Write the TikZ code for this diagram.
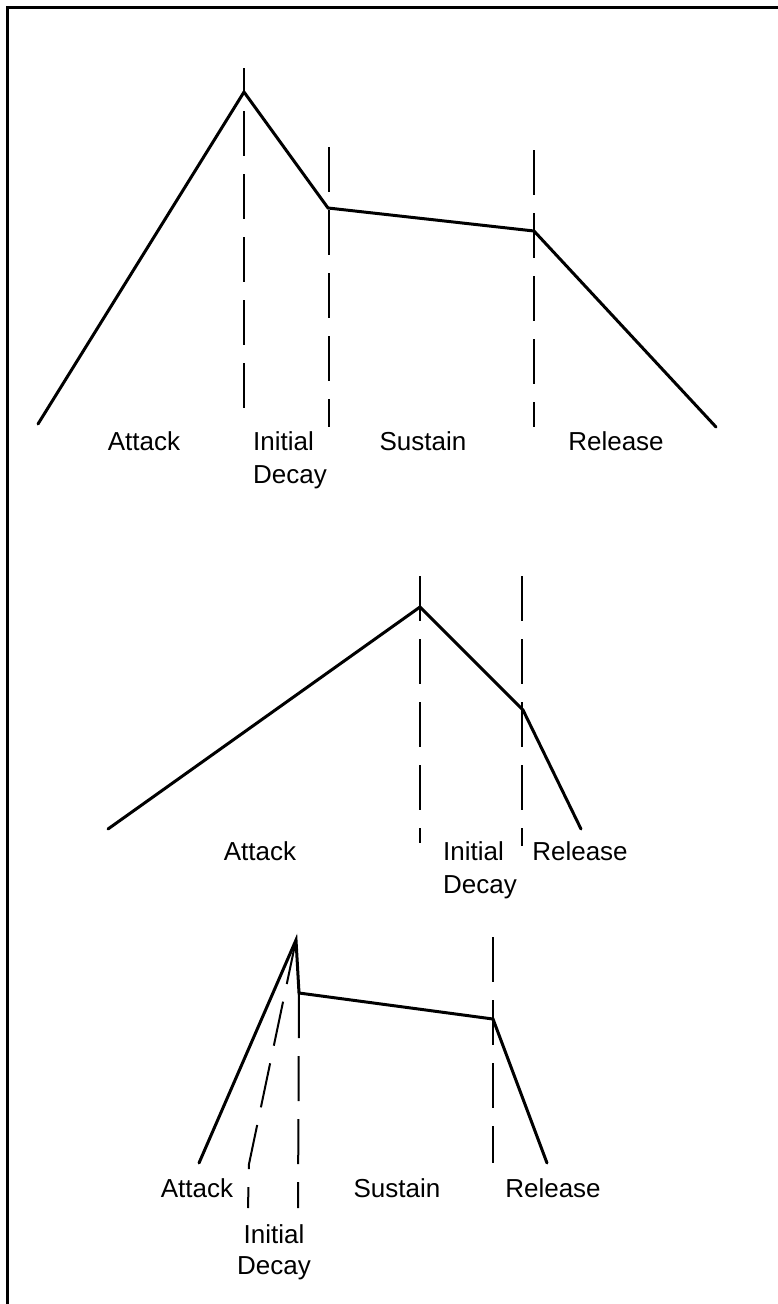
\documentclass[tikz,border=0pt]{standalone}
\usepackage{fontspec}
\setmainfont{Liberation Sans}
\usetikzlibrary{positioning}

\begin{document}
\begin{tikzpicture}[x=1pt, y=-1pt, font=\fontsize{26}{33}\selectfont,
    envelope/.style={line width=3pt, line join=miter, line cap=round},
    phase/.style={line width=2pt, dash pattern=on 45pt off 18pt},
    lbl/.style={anchor=north, inner sep=0pt},
    lblw/.style={anchor=north west, align=left, inner sep=0pt},
    lblc/.style={anchor=north, align=center, inner sep=0pt, font=\fontsize{26}{31}\selectfont}]

    \useasboundingbox (0,0) rectangle (777,1304);
    \draw[line width=3pt] (7,1320) -- (7,7) -- (790,7);

    % full envelope
    \coordinate (a1) at (38,424);
    \coordinate (p1) at (244,92);
    \coordinate (d1) at (328,208);
    \coordinate (s1) at (534,231);
    \coordinate (r1) at (716,427);
    \draw[envelope] (a1) -- (p1) -- (d1) -- (s1) -- (r1);
    \draw[phase, dash phase=20pt] (244,68) -- (244,423);
    \draw[phase] (329,147) -- (329,427);
    \draw[phase] (534,150) -- (534,427);

    \node[lbl] (att1) at (144,431) {Attack};
    \node[lblw] (ini1) at (253,431) {Initial\\Decay};
    \node[lbl] (sus1) at (423,431) {Sustain};
    \node[lbl] (rel1) at (616,431) {Release};

    % no sustain
    \coordinate (a2) at (108,829);
    \coordinate (p2) at (420,607);
    \coordinate (d2) at (523,710);
    \coordinate (r2) at (581,829);
    \draw[envelope] (a2) -- (p2) -- (d2) -- (r2);
    \draw[phase] (420,576) -- (420,843);
    \draw[phase] (522,576) -- (522,846);

    \node[lbl] (att2) at (260,841) {Attack};
    \node[lblw] (ini2) at (443,841) {Initial\\Decay};
    \node[lbl] (rel2) at (580,841) {Release};

    % fast attack
    \coordinate (a3) at (199,1163);
    \coordinate (p3) at (296,940);
    \coordinate (d3) at (299,993);
    \coordinate (s3) at (493,1019);
    \coordinate (r3) at (547,1163);
    \draw[envelope] (a3) -- (p3) -- (d3) -- (s3) -- (r3);
    \draw[phase] (p3) -- (249,1164) -- (248,1208);
    \draw[phase] (d3) -- (298,1208);
    \draw[phase] (493,937) -- (493,1163);

    \node[lbl] (att3) at (197,1178) {Attack};
    \node[lblc] (ini3) at (274,1224) {Initial\\Decay};
    \node[lbl] (sus3) at (397,1178) {Sustain};
    \node[lbl] (rel3) at (553,1178) {Release};
\end{tikzpicture}
\end{document}
